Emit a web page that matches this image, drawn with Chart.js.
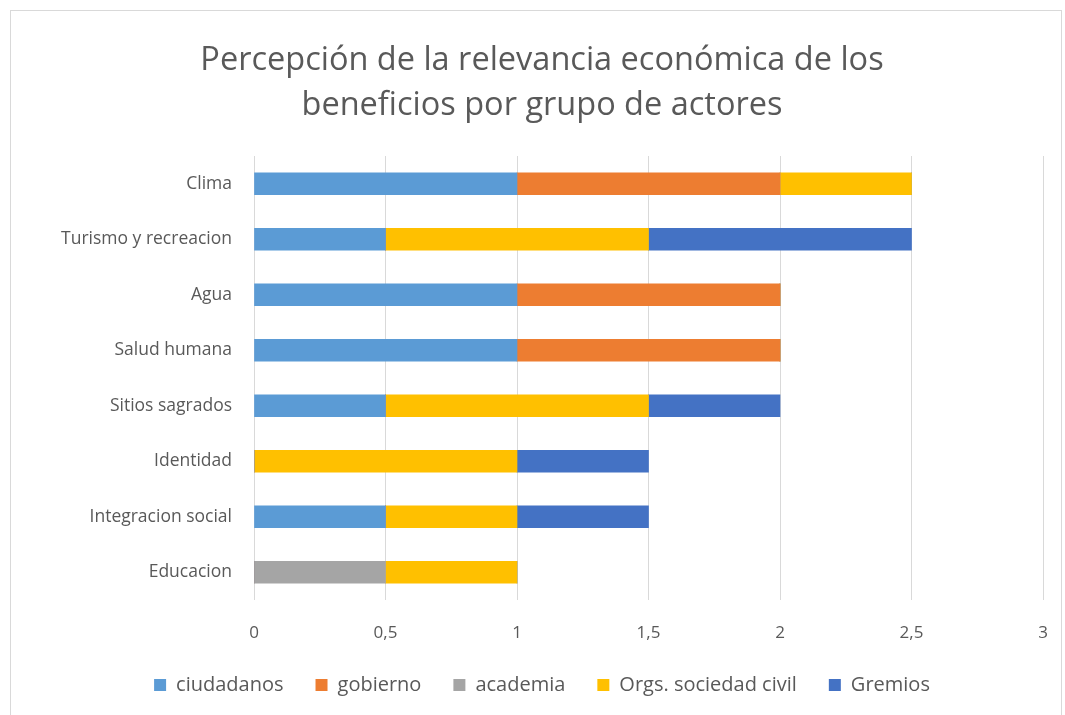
<!DOCTYPE html>
<html>
<head>
<meta charset="utf-8">
<script src="https://cdn.jsdelivr.net/npm/chart.js@4.4.0/dist/chart.umd.min.js"></script>
<style>
  body { margin: 0; background: #fff; }
  #box { position: absolute; left: 10px; top: 10px; width: 1052px; height: 705px;
         border-left: 1px solid #d9d9d9; border-top: 1px solid #d9d9d9; border-right: 1px solid #d9d9d9; box-sizing: border-box; }
  #chart { position: absolute; left: 0; top: 0; }
</style>
</head>
<body>
<div id="box"><canvas id="chart" width="1050" height="704"></canvas></div>
<script>

// categories and series
let categories = ['Clima', 'Turismo y recreacion', 'Agua', 'Salud humana', 'Sitios sagrados', 'Identidad', 'Integracion social', 'Educacion'];
let ciudadanos = [1, 0.5, 1, 1, 0.5, 0, 0.5, 0];
let gobierno   = [1, 0, 1, 1, 0, 0, 0, 0];
let academia   = [0, 0, 0, 0, 0, 0, 0, 0.5];
let orgs       = [0.5, 1, 0, 0, 1, 1, 0.5, 0.5];
let gremios    = [0, 1, 0, 0, 0.5, 0.5, 0.5, 0];

let fontFamily = "'Open Sans', 'Liberation Sans', sans-serif";
let textColor = '#595959';

function dataset(label, data, color){
  return { label: label, data: data, backgroundColor: color, borderWidth: 0, barThickness: 22 };
}

new Chart(document.getElementById('chart'), {
  type: 'bar',
  data: {
    labels: categories,
    datasets: [
      dataset('ciudadanos', ciudadanos, '#5B9BD5'),
      dataset('gobierno', gobierno, '#ED7D31'),
      dataset('academia', academia, '#A5A5A5'),
      dataset('Orgs. sociedad civil', orgs, '#FFC000'),
      dataset('Gremios', gremios, '#4472C4')
    ]
  },
  options: {
    indexAxis: 'y',
    responsive: false,
    animation: false,
    layout: { padding: { left: 30, right: 18, top: 0, bottom: 10 } },
    plugins: {
      title: {
        display: true,
        text: ['Percepción de la relevancia económica de los', 'beneficios por grupo de actores'],
        color: textColor,
        font: { family: fontFamily, size: 32.5, weight: 'normal', lineHeight: 1.385 },
        padding: { top: 27, bottom: 28 }
      },
      legend: {
        position: 'bottom',
        labels: {
          color: textColor,
          font: { family: fontFamily, size: 20 },
          boxWidth: 12, boxHeight: 12,
          padding: 32
        }
      },
      tooltip: { enabled: false }
    },
    scales: {
      x: {
        stacked: true,
        min: 0, max: 3,
        afterFit: function(scale){
          scale.height = 43;
          scale.paddingLeft = 0;
          scale.paddingRight = 0;
        },
        ticks: {
          stepSize: 0.5,
          color: textColor,
          font: { family: fontFamily, size: 17 },
          padding: 23,
          callback: function(v){ return String(v).replace('.', ','); }
        },
        grid: { color: '#d9d9d9', drawTicks: false },
        border: { display: false }
      },
      y: {
        stacked: true,
        afterFit: function(scale){ scale.width = 213; },
        ticks: {
          color: textColor,
          font: { family: fontFamily, size: 17.5 },
          padding: 14
        },
        grid: { display: false },
        border: { display: false }
      }
    }
  }
});
</script>
</body>
</html>
